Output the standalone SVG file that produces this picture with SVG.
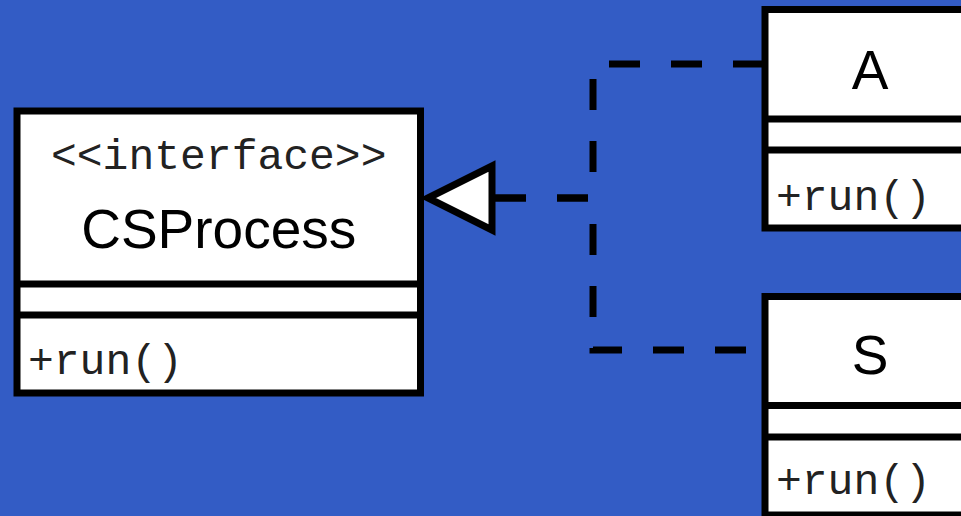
<svg xmlns="http://www.w3.org/2000/svg" width="961" height="516" viewBox="0 0 961 516">
  <style>
    .box { fill: #ffffff; stroke: #000000; stroke-width: 7; }
    .sep { stroke: #000000; stroke-width: 7; fill: none; }
    .name { font-family: "Liberation Sans", Arial, sans-serif; font-size: 55px; fill: #000000; text-anchor: middle; }
    .mono { font-family: "Liberation Mono", "Courier New", monospace; font-size: 43px; fill: #222222; }
    .dep { fill: none; stroke: #000000; stroke-width: 7; stroke-dasharray: 31 31; }
    .tri { fill: #ffffff; stroke: #000000; stroke-width: 7; stroke-linejoin: miter; }
  </style>
  <rect x="0" y="0" width="961" height="516" fill="#335cc5"/>

  <g id="connectors">
    <path class="dep" d="M495 198 H593 V64 H765"/>
    <path class="dep" d="M495 198 H593 V350 H765"/>
    <polygon class="tri" points="428,198 492,166 492,230"/>
  </g>

  <g id="csprocess">
    <rect class="box" x="17" y="111" width="403.5" height="282"/>
    <line class="sep" x1="17" y1="284" x2="420.5" y2="284"/>
    <line class="sep" x1="17" y1="315" x2="420.5" y2="315"/>
    <text class="mono" x="218.75" y="169" text-anchor="middle">&lt;&lt;interface&gt;&gt;</text>
    <text class="name" x="218.75" y="248">CSProcess</text>
    <text class="mono" x="28" y="374">+run()</text>
  </g>

  <g id="class-a">
    <rect class="box" x="765" y="9.5" width="210" height="218.5"/>
    <line class="sep" x1="765" y1="119" x2="975" y2="119"/>
    <line class="sep" x1="765" y1="150" x2="975" y2="150"/>
    <text class="name" x="870" y="89">A</text>
    <text class="mono" x="776" y="210">+run()</text>
  </g>

  <g id="class-s">
    <rect class="box" x="765" y="296.5" width="210" height="218.5"/>
    <line class="sep" x1="765" y1="405.5" x2="975" y2="405.5"/>
    <line class="sep" x1="765" y1="437" x2="975" y2="437"/>
    <text class="name" x="870" y="374">S</text>
    <text class="mono" x="776" y="494">+run()</text>
  </g>
</svg>
